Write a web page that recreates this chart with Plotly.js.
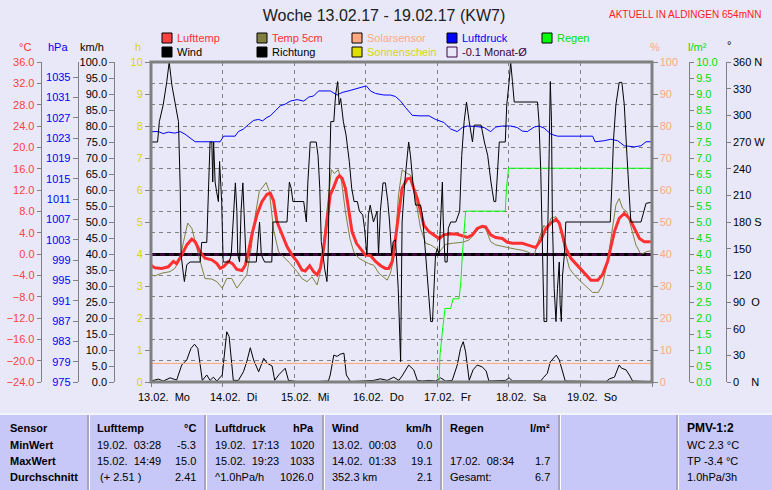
<!DOCTYPE html>
<html><head><meta charset="utf-8">
<script src="https://cdn.plot.ly/plotly-3.0.1.min.js"></script>
<style>html,body{margin:0;padding:0;background:#e8e8f8;overflow:hidden}#chart{width:772px;height:490px}</style>
</head><body><div id="chart"></div>
<script>
// ---------- DATA (hours since 13.02. 00:00) ----------
const dayHours = [0,24,48,72,96,120,144,168];
const dayLabels = ["13.02.\u00a0\u00a0Mo","14.02.\u00a0\u00a0Di","15.02.\u00a0\u00a0Mi","16.02.\u00a0\u00a0Do","17.02.\u00a0\u00a0Fr","18.02.\u00a0\u00a0Sa","19.02.\u00a0\u00a0So"];

const lufttempH = [0,1.3,3.6,5.8,7.5,8.6,10.3,12.0,13.7,14.8,16.5,18.1,20.4,22.1,23.2,24.3,26.0,27.3,28.8,30.5,31.6,32.7,33.8,35.5,37.2,38.9,40.0,41.1,42.2,43.9,45.6,47.3,49.0,50.6,51.7,53.2,54.5,55.7,56.8,57.9,59.0,60.1,61.3,62.4,63.2,64.1,65.2,66.3,67.4,68.9,70.2,71.9,73.6,75.3,77.0,78.6,79.7,80.9,82.0,83.1,84.2,85.9,87.0,88.1,89.3,90.4,91.5,93.2,94.9,96.6,98.2,100.5,102.7,104.4,106.1,107.8,109.4,111.1,112.2,113.9,115.6,117.8,119.5,121.2,123.4,124.5,126.2,129.0,130.7,132.4,134.1,135.8,136.9,138.0,139.1,140.8,143.0,145.3,147.5,149.8,151.4,153.1,154.2,155.4,157.0,158.7,160.4,162.1,163.8,165.4,167.6];
const lufttemp = [-2.1,-2.6,-2.7,-2.4,-1.4,-1.8,-0.2,1.7,2.8,2.3,0.4,-0.8,-1.1,-1.8,-2.7,-2.4,-1.4,-1.8,-2.9,-3.1,-2.1,0.4,3.6,7.3,9.8,11.2,11.4,10.0,6.1,3.6,1.4,-0.2,-1.4,-3.0,-3.2,-2.2,-3.3,-3.9,-2.7,1.1,6.1,11.1,12.6,14.2,14.7,14.2,12.3,8.6,4.2,2.0,1.1,-0.2,-0.3,-1.4,-2.2,-2.7,-2.7,-1.4,3.0,8.0,12.3,14.1,14.2,12.3,10.4,7.9,5.4,4.2,3.6,2.9,3.6,3.8,3.7,3.4,3.1,3.6,4.8,5.2,5.1,3.6,3.1,2.9,2.2,2.0,2.0,2.0,1.7,1.2,2.6,4.8,5.8,6.5,5.8,3.6,1.1,-0.8,-2.1,-3.6,-4.9,-4.9,-3.9,-1.4,1.1,4.2,6.7,7.6,6.7,4.8,2.9,2.3,2.3];

const temp5H = [0,1.3,3.6,6.4,8.0,9.8,10.9,12.3,13.7,14.8,16.5,18.1,20.4,22.1,23.9,25.4,27.1,28.8,30.5,32.1,33.6,35.0,36.3,37.8,38.6,39.7,41.1,42.8,44.5,46.7,49.0,50.6,52.3,54.0,55.7,56.8,57.9,59.3,60.5,61.5,62.8,63.9,65.2,66.7,68.0,69.7,71.4,73.0,74.7,76.4,78.1,79.2,80.3,81.6,83.0,84.2,85.9,87.0,88.1,89.3,90.4,92.1,93.8,95.4,96.6,97.7,98.8,101.0,104.4,106.6,108.9,110.5,112.2,113.9,115.6,117.8,120.1,122.3,124.5,126.2,128.5,130.1,131.8,132.9,134.1,135.8,137.2,138.6,140.3,141.9,144.2,146.4,148.1,150.0,151.4,153.1,154.4,155.9,157.0,158.1,159.6,160.9,162.6,164.3,166.0,167.6];
const temp5cm = [-3.9,-4.1,-3.6,-3.3,-2.7,-0.8,2.3,5.8,4.8,2.3,-1.4,-4.6,-4.7,-5.2,-6.4,-4.6,-4.6,-6.4,-5.2,-3.9,1.1,7.3,11.7,12.9,13.4,11.7,4.5,0.4,-0.5,-1.8,-3.3,-4.6,-5.2,-4.3,-5.8,-3.3,2.3,9.2,15.8,15.1,15.8,13.6,7.9,2.9,0.4,-0.8,-1.4,-1.8,-2.1,-3.6,-4.4,-4.9,-3.6,-0.2,11.1,15.8,15.1,14.8,12.3,8.6,4.8,2.0,1.7,1.1,0.3,1.1,1.8,2.0,2.2,2.6,4.2,5.1,4.8,2.3,1.7,1.4,1.1,0.9,0.7,0.4,-0.2,2.9,5.4,4.5,6.7,7.0,5.4,1.1,-2.7,-3.9,-5.2,-6.4,-7.2,-7.2,-5.8,-1.4,3.6,9.2,10.4,8.6,7.9,5.4,1.7,-0.1,0.4,0.6];

const druckH = [0,2.5,4.1,5.8,8.0,9.8,11.4,13.1,14.8,17.0,20.4,23.2,24.3,28.2,29.3,31.0,32.7,34.4,36.1,37.4,38.9,40.0,41.7,43.4,45.0,46.7,49.0,51.2,52.9,54.5,56.2,60.1,62.4,64.1,66.8,69.1,70.8,72.2,73.6,75.3,78.1,80.3,82.0,83.7,85.4,87.6,89.9,93.2,95.4,98.2,100.5,102.7,104.4,106.1,108.9,111.7,113.9,115.6,117.8,120.6,122.8,124.5,126.2,128.5,130.1,131.8,134.1,136.3,140.8,148.1,148.9,152.0,154.2,156.5,158.7,162.1,164.3,166.0,167.6];
const luftdruck = [1024.3,1024.3,1023.9,1024.2,1024.0,1024.3,1023.8,1023.1,1022.3,1022.3,1022.3,1022.3,1023.4,1023.4,1024.3,1024.8,1025.7,1026.5,1026.7,1026.4,1027.1,1027.4,1028.4,1029.4,1029.7,1030.3,1030.6,1030.3,1031.1,1031.3,1032.3,1032.3,1031.5,1032.0,1032.4,1032.8,1033.1,1033.3,1032.3,1031.8,1031.5,1031.5,1031.2,1030.3,1029.0,1027.5,1027.4,1027.4,1026.7,1026.1,1024.8,1024.3,1025.1,1025.4,1025.3,1025.1,1024.3,1025.2,1025.4,1025.4,1025.1,1024.4,1024.3,1025.2,1025.4,1025.0,1023.8,1023.4,1023.4,1023.4,1022.3,1022.5,1022.8,1022.5,1021.5,1021.3,1021.5,1022.3,1022.3];

const richtungH = [0,2.2,2.8,4.1,5.3,6.1,7.0,8.3,9.2,9.8,10.1,10.9,11.2,12.0,13.1,16.5,17.0,18.7,19.3,19.8,20.4,20.7,21.0,21.5,22.0,22.6,23.0,23.7,24.2,26.2,26.9,27.6,28.3,28.8,29.1,29.7,30.2,30.8,31.4,31.9,35.3,36.4,37.0,38.1,40.5,40.9,45.6,46.4,47.0,47.6,51.2,52.1,52.6,53.2,53.4,55.4,56.0,56.6,57.1,57.7,58.2,59.0,59.4,59.7,60.3,61.3,61.9,62.6,63.1,63.6,64.5,65.4,65.8,66.5,67.3,68.1,69.2,69.9,71.0,71.6,72.4,72.9,73.5,74.1,74.6,75.8,76.3,76.9,77.8,78.6,79.4,80.0,80.7,81.2,82.0,82.9,83.7,84.2,85.1,86.4,87.0,87.8,88.7,90.4,91.0,92.1,93.2,93.8,94.4,94.9,95.4,96.0,96.6,97.1,97.7,98.0,98.6,99.3,99.7,100.5,102.2,103.5,104.2,105.0,105.8,106.7,107.3,107.8,108.4,110.7,111.8,112.9,114.0,115.0,115.6,116.2,116.8,118.8,119.3,120.1,120.6,121.2,121.8,129.6,130.1,130.7,131.3,131.8,132.7,132.9,133.5,133.9,134.3,134.6,135.2,135.8,136.3,136.9,137.2,137.6,138.0,138.6,139.1,154.0,154.5,155.1,155.9,157.0,157.9,158.7,159.6,160.4,160.9,164.3,165.2,166.0,167.6];
const richtung = [270,270,293,312,338,360,334,312,293,218,143,120,113,132,135,135,157,157,210,270,270,225,270,225,214,203,248,203,135,135,143,192,224,192,143,135,192,224,180,135,135,180,143,135,135,180,180,225,218,203,203,180,225,263,270,270,255,218,158,143,128,113,143,210,293,293,323,338,312,319,293,278,267,248,218,203,203,192,188,173,143,188,199,188,180,192,143,192,224,224,203,180,143,158,160,105,23,180,225,270,255,225,199,199,188,143,98,68,68,105,143,150,143,180,225,180,135,135,173,180,180,192,255,293,315,293,278,270,289,289,270,255,225,203,203,237,270,270,312,338,360,338,315,315,293,237,143,68,68,143,255,338,293,180,105,68,105,135,87,68,120,143,180,180,218,273,312,337,337,312,255,199,180,180,192,201,202];

const windH = [0,2.5,4.1,6.4,8.6,10.3,12.0,13.4,14.6,15.7,16.5,17.2,18.7,19.8,20.9,22.1,23.9,24.8,25.4,26.2,26.9,27.6,29.3,31.0,32.1,33.3,34.4,36.1,37.8,38.9,40.6,41.5,42.8,45.0,46.1,47.3,49.0,55.0,59.5,60.1,61.3,62.4,63.5,64.7,65.5,66.9,74.7,76.9,79.2,81.4,83.1,84.2,86.4,88.1,89.3,91.0,93.2,95.4,97.1,98.8,101.0,102.7,103.8,104.7,105.5,106.7,108.0,109.4,111.1,112.4,113.3,118.9,120.1,121.2,130.7,131.6,132.9,133.9,135.0,135.9,136.9,138.0,138.9,152.6,153.7,155.4,157.0,157.8,159.3,160.4,161.5,167.6];
const wind = [0.3,0.9,0.3,1.3,0.6,5.3,6.9,10.5,11.8,10.5,5.3,0.5,2.2,0.5,1.5,0.3,2.2,10.5,15.7,14.2,6.3,0.5,0.5,3.2,6.3,10.7,6.9,3.2,7.4,5.9,5.0,0.5,2.2,4.3,0.5,0.3,0.1,0.1,0.3,2.2,8.4,8.0,8.7,9.0,2.2,0.1,0.5,1.0,0.5,1.5,0.5,1.9,5.3,3.8,0.5,0.3,0.5,0.3,1.3,0.3,0.5,5.3,10.5,12.6,9.4,0.5,3.8,5.3,4.7,3.4,0.3,0.5,1.3,0.3,0.3,1.4,2.7,6.3,7.4,8.4,6.9,3.2,0.3,0.1,1.0,1.5,5.3,4.3,3.8,2.2,0.3,0.1];

const regenH = [96.6,96.9,97.7,98.6,100.5,101.3,103.3,103.9,104.4,105.0,105.5,118.8,119.2,119.9,168];
const regen = [0,0.84,1.57,2.3,2.3,2.6,2.6,3.13,3.97,4.8,5.34,5.34,6.05,6.68,6.68];

const solarH = [0,168];
const solar = [5.8,5.8];

const sonnenscheinH = [0,168];
const sonnenschein = [0,0];

const monatH = [0,168];
const monat = [-0.1,-0.1];

const tempTicks = [-24,-20,-16,-12,-8,-4,0,4,8,12,16,20,24,28,32,36];
const hpaTicks = [975,979,983,987,991,995,999,1003,1007,1011,1015,1019,1023,1027,1031,1035];
const kmhTicks = [0,5,10,15,20,25,30,35,40,45,50,55,60,65,70,75,80,85,90,95,100];
const hTicks = [0,1,2,3,4,5,6,7,8,9,10];
const pctTicks = [0,10,20,30,40,50,60,70,80,90,100];
const rainTicks = [0,0.5,1,1.5,2,2.5,3,3.5,4,4.5,5,5.5,6,6.5,7,7.5,8,8.5,9,9.5,10];
const degTicks = [0,30,60,90,120,150,180,210,240,270,300,330,360];
const degTickText = ["0\u00a0\u00a0\u00a0\u00a0N","30","60","90\u00a0\u00a0O","120","150","180\u00a0S","210","240","270\u00a0W","300","330","360\u00a0N"];

const legendNames = ["Lufttemp","Wind","Temp 5cm","Richtung","Solarsensor","Sonnenschein","Luftdruck","-0.1 Monat-\u00d8","Regen"];
const legendFill = ["#ff4040","#000000","#808040","#000000","#ffa880","#e0e000","#0000ff","rgba(0,0,0,0)","#00ff00"];
const legendText = ["#ff3030","#000000","#ff3030","#000000","#ffa880","#d8d800","#0000ff","#400040","#00e000"];

const tableHead = ["Sensor","Lufttemp","\u00b0C","Luftdruck","hPa","Wind","km/h","Regen","l/m\u00b2","PMV-1:2"];
const rowNames = ["MinWert","MaxWert","Durchschnitt"];
const lufttempTab = [["19.02.\u00a0\u00a003:28","-5.3"],["15.02.\u00a0\u00a014:49","15.0"],["\u00a0(+ 2.51 )","2.41"]];
const druckTab = [["19.02.\u00a0\u00a017:13","1020"],["15.02.\u00a0\u00a019:23","1033"],["^1.0hPa/h","1026.0"]];
const windTab = [["13.02.\u00a0\u00a000:03","0.0"],["14.02.\u00a0\u00a001:33","19.1"],["352.3 km","2.1"]];
const regenTab = [["",""],["17.02.\u00a0\u00a008:34","1.7"],["Gesamt:","6.7"]];
const pmvTab = ["WC 2.3 \u00b0C","TP -3.4 \u00b0C","1.0hPa/3h"];

// ---------- GEOMETRY ----------
const W = 772, PT = 62, PB = 382;
const px = x => x / W;
const py = y => (PB - y) / (PB - PT);
const FONT = '"Liberation Sans", Arial, sans-serif';
const GRAY = '#808080';

function yax(extra) {
  return Object.assign({anchor:'free', overlaying:'y', showgrid:false, zeroline:false, fixedrange:true,
    showline:true, linecolor:GRAY, linewidth:1, ticks:'outside', ticklen:5, tickcolor:GRAY,
    tickfont:{family:FONT,size:11,color:'#000'}}, extra);
}

const traces = [
  {x:solarH, y:solar, yaxis:'y5', line:{color:'#ffa878', width:1}},
  {x:sonnenscheinH, y:sonnenschein, yaxis:'y4', line:{color:'#e0e000', width:1}},
  {x:regenH, y:regen, yaxis:'y6', line:{color:'#00ff00', width:1}},
  {x:druckH, y:luftdruck, yaxis:'y2', line:{color:'#0000ff', width:1}},
  {x:richtungH, y:richtung, yaxis:'y7', line:{color:'#000000', width:1}},
  {x:windH, y:wind, yaxis:'y3', line:{color:'#000000', width:1}},
  {x:temp5H, y:temp5cm, yaxis:'y', line:{color:'#808040', width:1}},
  {x:monatH, y:monat, yaxis:'y', line:{color:'#500050', width:2, dash:'5px,4px'}},
  {x:lufttempH, y:lufttemp, yaxis:'y', line:{color:'#ff3030', width:3}}
].map(t => Object.assign({type:'scatter', mode:'lines', xaxis:'x', hoverinfo:'skip', showlegend:false}, t));

const shapes = [];
const annotations = [];
function ann(text, x, y, o) {
  annotations.push(Object.assign({text:text, xref:'paper', yref:'paper', x:px(x), y:py(y), showarrow:false,
    xanchor:'left', yanchor:'middle', font:{family:FONT, size:11, color:'#000'}}, o || {}));
}

// plot border
shapes.push({type:'rect', xref:'paper', yref:'paper', x0:px(151), x1:px(652), y0:0, y1:1,
  line:{color:GRAY, width:3}, layer:'above'});

// axis titles
ann('\u00b0C', 25, 47, {xanchor:'center', font:{family:FONT,size:11,color:'#ff3030'}});
ann('hPa', 58, 47, {xanchor:'center', font:{family:FONT,size:11,color:'#0000ff'}});
ann('km/h', 92, 47, {xanchor:'center'});
ann('h', 138, 47, {xanchor:'center', font:{family:FONT,size:11,color:'#d8d800'}});
ann('%', 655, 47, {xanchor:'center', font:{family:FONT,size:11,color:'#ffa880'}});
ann('l/m\u00b2', 697, 47, {xanchor:'center', font:{family:FONT,size:11,color:'#00e000'}});
ann('\u00b0', 729, 45, {xanchor:'center'});

// header texts
ann('AKTUELL IN ALDINGEN 654mNN', 763, 14, {xanchor:'right', font:{family:FONT,size:10,color:'#ff2020'}});

// legend
legendNames.forEach((n, i) => {
  const col = Math.floor(i / 2), row = i % 2;
  const sx = 162 + col * 95, sy = 33 + row * 14;
  shapes.push({type:'rect', xref:'paper', yref:'paper', x0:px(sx), x1:px(sx + 10), y0:py(sy + 10), y1:py(sy),
    fillcolor:legendFill[i], line:{color: i === 7 ? '#400040' : '#000', width:1}});
  ann(n, sx + 13, sy + 5, {font:{family:FONT, size:11, color:legendText[i]}});
});

// day labels
dayLabels.forEach((d, i) => {
  annotations.push({text:d, xref:'x', yref:'paper', x:dayHours[i], y:py(397), xanchor:'left', xshift:-15,
    yanchor:'middle', showarrow:false, font:{family:FONT, size:11, color:'#000'}});
});

// table
shapes.push({type:'rect', xref:'paper', yref:'paper', x0:0, x1:1, y0:py(495), y1:py(414),
  fillcolor:'#c8c8f8', line:{width:0}, layer:'below'});
shapes.push({type:'line', xref:'paper', yref:'paper', x0:0, x1:1, y0:py(414), y1:py(414), line:{color:'#f4f4ff', width:2}});
[88,205,323,441,559,677].forEach(x => {
  shapes.push({type:'line', xref:'paper', yref:'paper', x0:px(x), x1:px(x), y0:py(495), y1:py(415), line:{color:'#9a9aaa', width:1.5}});
  shapes.push({type:'line', xref:'paper', yref:'paper', x0:px(x+1.5), x1:px(x+1.5), y0:py(495), y1:py(415), line:{color:'#ffffff', width:1}});
});
const rowY = [428, 445, 461, 477];
ann('<b>' + tableHead[0] + '</b>', 8, rowY[0]);
ann('<b>' + tableHead[1] + '</b>', 95, rowY[0]); ann('<b>' + tableHead[2] + '</b>', 198, rowY[0], {xanchor:'right'});
ann('<b>' + tableHead[3] + '</b>', 213, rowY[0]); ann('<b>' + tableHead[4] + '</b>', 316, rowY[0], {xanchor:'right'});
ann('<b>' + tableHead[5] + '</b>', 330, rowY[0]); ann('<b>' + tableHead[6] + '</b>', 434, rowY[0], {xanchor:'right'});
ann('<b>' + tableHead[7] + '</b>', 448, rowY[0]); ann('<b>' + tableHead[8] + '</b>', 552, rowY[0], {xanchor:'right'});
ann('<b>' + tableHead[9] + '</b>', 685, rowY[0], {font:{family:FONT,size:12,color:'#000'}});
rowNames.forEach((r, i) => {
  const y = rowY[i + 1];
  ann('<b>' + r + '</b>', 8, y);
  ann(lufttempTab[i][0], 95, y); ann(lufttempTab[i][1], 198, y, {xanchor:'right'});
  ann(druckTab[i][0], 213, y); ann(druckTab[i][1], 316, y, {xanchor:'right'});
  ann(windTab[i][0], 330, y); ann(windTab[i][1], 434, y, {xanchor:'right'});
  if (regenTab[i][0]) { ann(regenTab[i][0], 448, y); ann(regenTab[i][1], 552, y, {xanchor:'right'}); }
  ann(pmvTab[i], 685, y);
});

const layout = {
  width:772, height:490, margin:{l:0, r:0, t:62, b:108, pad:0},
  paper_bgcolor:'#e8e8f8', plot_bgcolor:'#e8e8f8',
  font:{family:FONT, size:11, color:'#000'},
  title:{text:'Woche 13.02.17 - 19.02.17 (KW7)', x:384/772, xanchor:'center', xref:'paper',
    y:1 - 15/490, yref:'container', yanchor:'middle', font:{family:FONT, size:16, color:'#202020'}},
  showlegend:false,
  xaxis:{domain:[px(151), px(652)], range:[0,168], tickvals:dayHours, showticklabels:false,
    ticks:'outside', ticklen:4, tickcolor:GRAY, showgrid:true, gridcolor:GRAY, griddash:'4px,4px', gridwidth:1,
    zeroline:false, showline:false, fixedrange:true, anchor:'y'},
  yaxis:{anchor:'free', position:px(40.7), side:'left', range:[-24,36], tickvals:tempTicks, tickformat:'.1f',
    showline:true, linecolor:GRAY, linewidth:1, ticks:'outside', ticklen:4, tickcolor:GRAY,
    tickfont:{family:FONT, size:11, color:'#ff4040'}, showgrid:true, gridcolor:GRAY, griddash:'4px,4px', gridwidth:1,
    zeroline:true, zerolinecolor:'#000000', zerolinewidth:3, fixedrange:true},
  yaxis2: yax({position:px(77.7), side:'left', range:[975,1038], tickvals:hpaTicks,
    tickfont:{family:FONT, size:11, color:'#0000ff'}}),
  yaxis3: yax({position:px(114.3), side:'left', range:[0,100], tickvals:kmhTicks, tickformat:'.1f'}),
  yaxis4: yax({position:px(150), side:'left', range:[0,10], tickvals:hTicks, showline:false,
    tickfont:{family:FONT, size:11, color:'#d8d800'}}),
  yaxis5: yax({position:px(651.5), side:'right', range:[0,100], tickvals:pctTicks, showline:false,
    tickfont:{family:FONT, size:11, color:'#ffa880'}}),
  yaxis6: yax({position:px(689), side:'right', range:[0,10], tickvals:rainTicks, tickformat:'.1f', ticklen:4,
    tickfont:{family:FONT, size:11, color:'#00e000'}}),
  yaxis7: yax({position:px(725.7), side:'right', range:[0,360], tickvals:degTicks, ticktext:degTickText, ticklen:4}),
  shapes:shapes,
  annotations:annotations
};

Plotly.newPlot('chart', traces, layout, {staticPlot:true, displayModeBar:false});
</script>
</body></html>
